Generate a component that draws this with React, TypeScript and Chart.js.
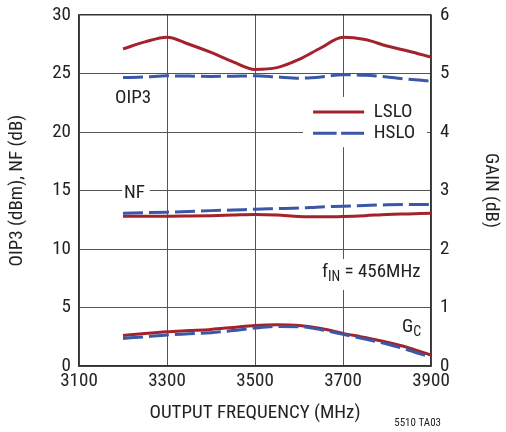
import React, { useEffect, useRef } from "react";
import { Chart, registerables } from "chart.js";

Chart.register(...registerables);

const FONT = "'Liberation Sans Narrow', 'Arial Narrow', 'Roboto Condensed', 'DejaVu Sans Condensed', sans-serif";

const freqMHz = [3200, 3250, 3300, 3350, 3400, 3450, 3500, 3550, 3600, 3650, 3700, 3750, 3800, 3850, 3900];

const oip3LSLO = [27.1, 27.7, 28.1, 27.5, 26.8, 26.0, 25.35, 25.5, 26.2, 27.2, 28.1, 27.9, 27.35, 26.9, 26.4];
const oip3HSLO = [24.65, 24.7, 24.8, 24.78, 24.75, 24.77, 24.8, 24.7, 24.6, 24.7, 24.9, 24.85, 24.7, 24.5, 24.35];

const nfLSLO = [12.8, 12.8, 12.8, 12.82, 12.85, 12.9, 12.95, 12.9, 12.78, 12.75, 12.78, 12.85, 12.95, 13.0, 13.05];
const nfHSLO = [13.05, 13.1, 13.15, 13.2, 13.28, 13.33, 13.4, 13.45, 13.5, 13.6, 13.65, 13.72, 13.78, 13.8, 13.8];

const gainLSLO = [0.52, 0.556, 0.586, 0.606, 0.626, 0.66, 0.694, 0.704, 0.694, 0.64, 0.558, 0.486, 0.406, 0.31, 0.188];
const gainHSLO = [0.472, 0.5, 0.53, 0.55, 0.57, 0.606, 0.65, 0.676, 0.672, 0.62, 0.54, 0.46, 0.376, 0.27, 0.148];

const xTicks = [3100, 3300, 3500, 3700, 3900];
const leftTicks = [0, 5, 10, 15, 20, 25, 30];
const rightTicks = [0, 1, 2, 3, 4, 5, 6];

const seriesNames = ["LSLO", "HSLO"];
const RED = "#A3222B";
const BLUE = "#3A57A8";
const DASH = [20, 6];
const TEXT = "#222";

const pts = (ys: number[]) => freqMHz.map((x, i) => ({ x, y: ys[i] }));

const noPad = (s: any) => {
  s.paddingTop = 0;
  s.paddingBottom = 0;
  s.paddingLeft = 0;
  s.paddingRight = 0;
};

const annotationPlugin = {
  id: "annotations",
  beforeDatasetsDraw(chart: any) {
    const { ctx } = chart;
    const xs = chart.scales.x;
    const ys = chart.scales.y;
    const X = (v: number) => xs.getPixelForValue(v);
    const Y = (v: number) => ys.getPixelForValue(v);
    ctx.save();
    ctx.fillStyle = "#fff";
    const box = (x0: number, x1: number, y0: number, y1: number) => {
      ctx.fillRect(X(x0), Y(y0), X(x1) - X(x0), Y(y1) - Y(y0));
    };
    box(3609, 3891, 23.0, 18.7); // legend
    box(3198, 3261, 15.8, 13.8); // NF
    box(3634, 3866, 9.15, 6.5); // fIN

    ctx.textBaseline = "middle";
    ctx.textAlign = "left";
    ctx.fillStyle = TEXT;
    ctx.font = `19px ${FONT}`;

    const lx0 = X(3632);
    const lx1 = X(3748);
    const ly1 = Y(21.7);
    const ly2 = Y(19.9);
    ctx.lineWidth = 3;
    ctx.strokeStyle = RED;
    ctx.setLineDash([]);
    ctx.beginPath();
    ctx.moveTo(lx0, ly1);
    ctx.lineTo(lx1, ly1);
    ctx.stroke();
    ctx.strokeStyle = BLUE;
    ctx.setLineDash([23.5, 4.5]);
    ctx.beginPath();
    ctx.moveTo(lx0, ly2);
    ctx.lineTo(lx1, ly2);
    ctx.stroke();
    ctx.setLineDash([]);
    ctx.fillText(seriesNames[0], X(3770), ly1);
    ctx.fillText(seriesNames[1], X(3770), ly2);

    ctx.fillText("OIP3", X(3182), Y(22.9));
    ctx.fillText("NF", X(3202), Y(14.8));

    let gx = X(3834);
    const gy = Y(3.33);
    ctx.fillText("G", gx, gy);
    gx += ctx.measureText("G").width;
    ctx.font = `14px ${FONT}`;
    ctx.fillText("C", gx, gy + 5);

    ctx.font = `19px ${FONT}`;
    let fx = X(3652);
    const fy = Y(8.03);
    ctx.fillText("f", fx, fy);
    fx += ctx.measureText("f").width;
    ctx.font = `14px ${FONT}`;
    ctx.fillText("IN", fx, fy + 5);
    fx += ctx.measureText("IN").width;
    ctx.font = `19px ${FONT}`;
    ctx.fillText(" = 456MHz", fx, fy);
    ctx.restore();
  },
  afterDraw(chart: any) {
    const { ctx } = chart;
    ctx.save();
    ctx.fillStyle = TEXT;
    ctx.font = `11px ${FONT}`;
    ctx.textAlign = "right";
    ctx.textBaseline = "middle";
    ctx.fillText("5510 TA03", 441, 423);
    ctx.restore();
  },
};

export default function App() {
  const ref = useRef<HTMLCanvasElement | null>(null);

  useEffect(() => {
    if (!ref.current) return;
    const line = (label: string, data: number[], color: string, dashed: boolean, axis: string) => ({
      label,
      data: pts(data),
      borderColor: color,
      backgroundColor: color,
      borderWidth: 3,
      borderDash: dashed ? DASH : [],
      pointRadius: 0,
      cubicInterpolationMode: "monotone" as const,
      fill: false,
      yAxisID: axis,
    });
    const chart = new Chart(ref.current, {
      type: "line",
      data: {
        datasets: [
          line("HSLO OIP3", oip3HSLO, BLUE, true, "y"),
          line("LSLO OIP3", oip3LSLO, RED, false, "y"),
          line("HSLO NF", nfHSLO, BLUE, true, "y"),
          line("LSLO NF", nfLSLO, RED, false, "y"),
          line("HSLO GAIN", gainHSLO, BLUE, true, "y1"),
          line("LSLO GAIN", gainLSLO, RED, false, "y1"),
        ],
      },
      options: {
        responsive: false,
        animation: false,
        layout: { padding: { top: 15, left: 0, right: 0, bottom: 0 } },
        plugins: { legend: { display: false }, tooltip: { enabled: false } },
        scales: {
          x: {
            type: "linear",
            min: 3100,
            max: 3900,
            afterBuildTicks: (s: any) => {
              s.ticks = xTicks.map((v) => ({ value: v }));
            },
            afterFit: (s: any) => {
              s.height = 66;
              noPad(s);
            },
            ticks: {
              color: TEXT,
              font: { family: FONT, size: 19 },
              padding: 4,
              maxRotation: 0,
              callback: (v: any) => String(v),
            },
            grid: { color: "#555", lineWidth: 1, drawTicks: false },
            border: { color: "#333", width: 1.5 },
            title: {
              display: true,
              text: "OUTPUT FREQUENCY (MHz)",
              color: TEXT,
              font: { family: FONT, size: 19 },
              padding: { top: 0, bottom: 7 },
            },
          },
          y: {
            type: "linear",
            position: "left",
            min: 0,
            max: 30,
            afterBuildTicks: (s: any) => {
              s.ticks = leftTicks.map((v) => ({ value: v }));
            },
            afterFit: (s: any) => {
              s.width = 79;
              noPad(s);
            },
            ticks: {
              color: TEXT,
              font: { family: FONT, size: 19 },
              padding: 8,
              callback: (v: any) => String(v),
            },
            grid: {
              color: (c: any) => (c.tick && c.tick.value === 30 ? "#333" : "#555"),
              lineWidth: (c: any) => (c.tick && c.tick.value === 30 ? 1.5 : 1),
              drawTicks: false,
            },
            border: { color: "#333", width: 1.5 },
            title: {
              display: true,
              text: "OIP3 (dBm), NF (dB)",
              color: TEXT,
              font: { family: FONT, size: 19 },
              padding: { top: 6, bottom: 0 },
            },
          },
          y1: {
            type: "linear",
            position: "right",
            min: 0,
            max: 6,
            afterBuildTicks: (s: any) => {
              s.ticks = rightTicks.map((v) => ({ value: v }));
            },
            afterFit: (s: any) => {
              s.width = 75;
              noPad(s);
            },
            ticks: {
              color: TEXT,
              font: { family: FONT, size: 19 },
              padding: 9,
              callback: (v: any) => String(v),
            },
            grid: { display: false, drawTicks: false },
            border: { color: "#333", width: 1.5 },
            title: {
              display: true,
              text: "GAIN (dB)",
              color: TEXT,
              font: { family: FONT, size: 19 },
              padding: { top: 4, bottom: 0 },
            },
          },
        },
      },
      plugins: [annotationPlugin],
    });
    return () => chart.destroy();
  }, []);

  return (
    <div style={{ position: "absolute", left: 0, top: 0, width: 506, height: 432, background: "#fff" }}>
      <canvas ref={ref} width={506} height={432} style={{ width: 506, height: 432 }} />
    </div>
  );
}
